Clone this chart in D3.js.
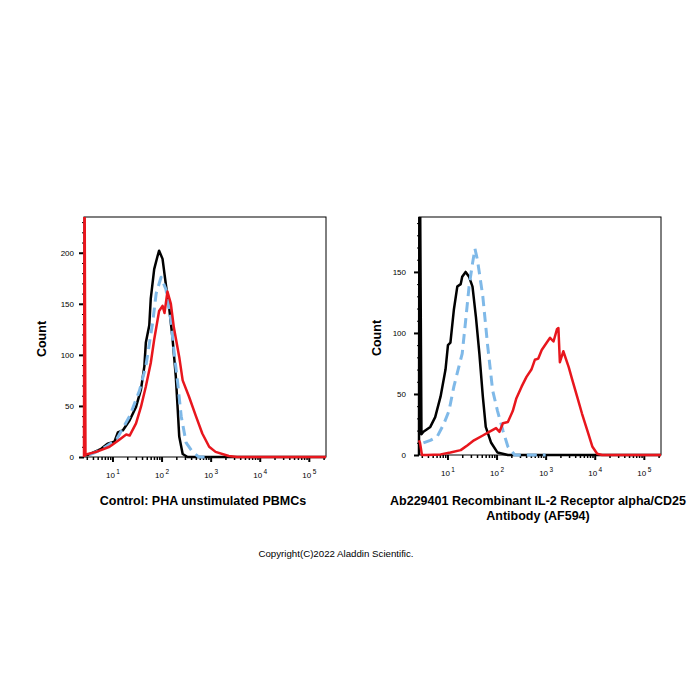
<!DOCTYPE html>
<html>
<head>
<meta charset="utf-8">
<script src="https://cdn.jsdelivr.net/npm/d3@7"></script>
<style>body{margin:0;background:#fff;}</style>
</head>
<body>
<svg id="chart" width="700" height="700"></svg>
<script>
// points are [log10 intensity, count]
const leftBlack = [[0.42,2],[0.50,2],[0.77,8],[0.90,13],[1.04,15],[1.11,24],[1.21,26],[1.35,36],[1.48,49],[1.58,66],[1.65,89],[1.68,112],[1.75,129],[1.78,155],[1.85,184],[1.92,197],[1.95,202],[2.02,194],[2.09,168],[2.16,144],[2.22,118],[2.29,79],[2.33,46],[2.36,20],[2.43,3],[2.53,0],[5.35,0]];
const leftBlue = [[0.53,2],[0.77,7],[1.08,17],[1.35,40],[1.55,65],[1.68,89],[1.82,132],[1.89,160],[1.99,176],[2.09,164],[2.19,134],[2.25,105],[2.33,72],[2.40,40],[2.50,14],[2.63,5],[2.76,0],[3.00,0]];
const leftRed = [[0.42,0],[0.43,300],[0.45,2],[0.50,3],[0.67,5],[0.94,10],[1.14,17],[1.28,22],[1.35,21],[1.48,33],[1.58,49],[1.68,69],[1.78,92],[1.85,115],[1.95,143],[2.02,148],[2.06,141],[2.12,162],[2.19,150],[2.25,127],[2.36,98],[2.43,75],[2.56,59],[2.70,40],[2.83,23],[2.97,10],[3.10,5],[3.37,1],[3.54,0],[5.35,0]];

const rightBlack = [[0.42,0],[0.43,300],[0.47,17],[0.51,19],[0.65,23],[0.75,31],[0.86,48],[0.96,70],[1.01,90],[1.06,92],[1.13,119],[1.20,138],[1.27,140],[1.30,146],[1.37,150],[1.44,146],[1.51,138],[1.58,113],[1.65,83],[1.72,48],[1.78,23],[1.89,10],[2.02,2],[2.23,0],[5.35,0]];
const rightBlue = [[0.51,10],[0.65,12],[0.79,15],[0.92,25],[1.03,36],[1.13,56],[1.23,72],[1.30,83],[1.37,110],[1.44,138],[1.51,157],[1.56,169],[1.61,160],[1.72,130],[1.82,89],[1.92,53],[2.02,36],[2.13,20],[2.23,7],[2.37,0],[3.00,0]];
const rightRed = [[0.42,12],[0.44,10],[0.48,0],[0.58,0],[0.86,0.5],[1.06,2],[1.27,4],[1.41,8],[1.54,12],[1.72,16],[1.85,19],[1.99,22],[2.06,19],[2.13,26],[2.23,27],[2.33,36],[2.40,46],[2.51,56],[2.61,64],[2.71,70],[2.78,78],[2.85,79],[2.92,86],[3.02,92],[3.09,96],[3.16,93],[3.23,103],[3.26,104],[3.29,76],[3.36,85],[3.47,72],[3.54,62],[3.64,48],[3.74,34],[3.85,20],[3.95,7],[4.05,1],[4.15,0],[5.35,0]];

const decades = [1, 2, 3, 4, 5];
const leftCountTicks = [0, 50, 100, 150, 200];
const rightCountTicks = [0, 50, 100, 150];
const leftTitle = ["Control: PHA unstimulated PBMCs"];
const rightTitle = ["Ab229401 Recombinant IL-2 Receptor alpha/CD25", "Antibody (AF594)"];

const font = 'Arial, "Liberation Sans", sans-serif';
const svg = d3.select('#chart');

function makePanel(id, x0, x1, top, zero, ymax, countTicks, pad, series, title) {
  const g = svg.append('g');
  const xscale = d3.scaleLog().domain([10 ** 0.42, 10 ** 5.35]).range([x0, x1]);
  const yscale = d3.scaleLinear().domain([0, ymax]).range([zero, top]);

  // minor log ticks
  const minors = [];
  for (let d = 0; d <= 5; d++) {
    for (let m = 2; m <= 9; m++) {
      const v = m * 10 ** d;
      if (v > xscale.domain()[0] && v < xscale.domain()[1]) minors.push(v);
    }
  }

  g.append('g')
    .attr('transform', `translate(0, ${zero})`)
    .call(d3.axisBottom(xscale).tickValues(minors).tickSize(3).tickFormat(''))
    .call(a => a.select('.domain').remove())
    .selectAll('line').attr('stroke-width', 1.5);

  const xa = g.append('g')
    .attr('transform', `translate(0, ${zero})`)
    .call(d3.axisBottom(xscale).tickValues(decades.map(d => 10 ** d)).tickSize(5).tickPadding(10));
  xa.select('.domain').remove();
  xa.selectAll('line').attr('stroke-width', 2);
  xa.selectAll('text')
    .attr('font-family', font).attr('font-size', 8)
    .text('')
    .each(function(d) {
      const t = d3.select(this);
      t.append('tspan').text('10');
      t.append('tspan').attr('dy', -4).attr('font-size', 6.5).attr('dx', 1.5).text(Math.round(Math.log10(d)));
    });

  // minor count ticks
  g.append('g')
    .attr('transform', `translate(${x0}, 0)`)
    .call(d3.axisLeft(yscale).tickValues(d3.range(0, ymax, 10)).tickSize(2).tickFormat(''))
    .call(a => a.select('.domain').remove());

  const ya = g.append('g')
    .attr('transform', `translate(${x0}, 0)`)
    .call(d3.axisLeft(yscale).tickValues(countTicks).tickSize(5).tickPadding(pad));
  ya.select('.domain').remove();
  ya.selectAll('line').attr('stroke-width', 2);
  ya.selectAll('text').attr('font-family', font).attr('font-size', 8);

  // frame
  g.append('rect')
    .attr('x', x0).attr('y', top)
    .attr('width', x1 - x0).attr('height', zero - top)
    .attr('fill', 'none').attr('stroke', 'black').attr('stroke-width', 1);

  g.append('clipPath').attr('id', id)
    .append('rect')
    .attr('x', x0 - 2).attr('y', top)
    .attr('width', x1 - x0 + 2).attr('height', zero - top + 3);

  const line = d3.line()
    .x(d => xscale(10 ** d[0]))
    .y(d => yscale(d[1]));

  const plot = g.append('g').attr('clip-path', `url(#${id})`);
  series.forEach(s => {
    plot.append('path')
      .attr('d', line(s.data))
      .attr('fill', 'none')
      .attr('stroke', s.color)
      .attr('stroke-width', s.width)
      .attr('stroke-dasharray', s.dash || null)
      .attr('stroke-linejoin', 'round');
  });

  g.append('text')
    .attr('transform', `translate(${x0 - 38}, ${(top + zero) / 2 + 2}) rotate(-90)`)
    .attr('text-anchor', 'middle')
    .attr('font-family', font).attr('font-size', 12.5).attr('font-weight', 'bold')
    .text('Count');

  g.selectAll('.title').data(title).enter().append('text')
    .attr('x', (x0 + x1) / 2 - 2)
    .attr('y', (d, i) => 505 + i * 15)
    .attr('text-anchor', 'middle')
    .attr('font-family', font).attr('font-size', 12.5).attr('font-weight', 'bold')
    .text(d => d);
}

makePanel('clipL', 84, 326, 217, 457, 235, leftCountTicks, 5, [
  {data: leftBlack, color: '#000', width: 2.5},
  {data: leftBlue, color: '#7fb9e8', width: 3, dash: '10,6'},
  {data: leftRed, color: '#e8161d', width: 2.5}
], leftTitle);

makePanel('clipR', 419, 661, 217, 455, 195, rightCountTicks, 8, [
  {data: rightBlack, color: '#000', width: 2.5},
  {data: rightBlue, color: '#7fb9e8', width: 3, dash: '10,6'},
  {data: rightRed, color: '#e8161d', width: 2.5}
], rightTitle);

svg.append('text')
  .attr('x', 336).attr('y', 557)
  .attr('text-anchor', 'middle')
  .attr('font-family', font).attr('font-size', 9.7)
  .text('Copyright(C)2022 Aladdin Scientific.');
</script>
</body>
</html>
